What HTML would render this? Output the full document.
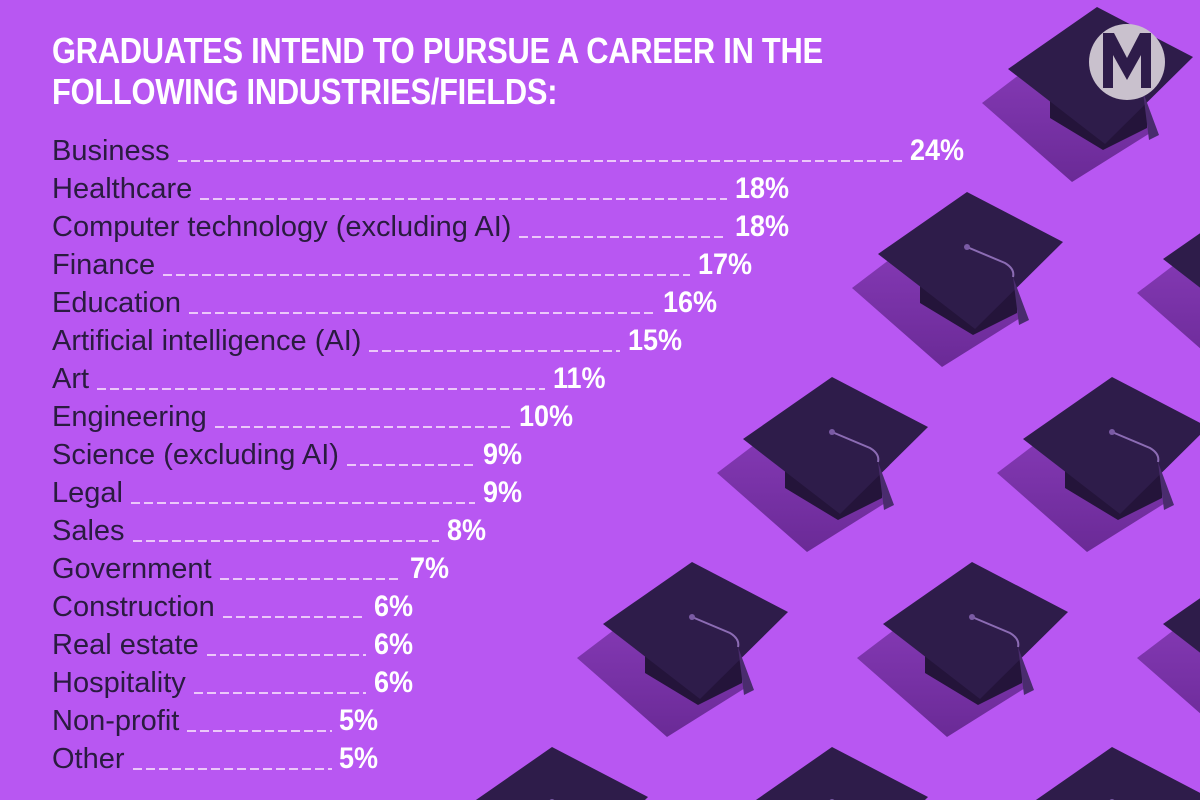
<!DOCTYPE html>
<html><head><meta charset="utf-8"><style>
html,body{margin:0;width:1200px;height:800px;overflow:hidden}
body{background:#b857f2;position:relative;font-family:"Liberation Sans",sans-serif;}
svg{position:absolute;left:0;top:0}
.t{position:absolute;left:52px;top:30px;color:#fff;font-weight:bold;font-size:36px;line-height:41px;letter-spacing:-0.3px;transform:scaleX(0.857);transform-origin:0 0;white-space:nowrap}
.r{position:absolute;left:52px;height:38px;display:flex;align-items:flex-end}
.l{color:#2a1b40;font-size:29px;line-height:30px;white-space:nowrap;padding-right:8px}
.d{flex:1;margin-bottom:4px;background-image:linear-gradient(to right,#ecc8fa 9px,transparent 9px);background-size:13px 2px;background-repeat:repeat-x;height:2px}
.p{position:absolute;color:#fff;font-size:30px;font-weight:bold;line-height:30px;transform:scaleX(0.9);transform-origin:0 0}
</style></head><body>
<svg width="1200" height="800" viewBox="0 0 1200 800">
<defs>
<linearGradient id="sh" x1="0" y1="0" x2="0" y2="1"><stop offset="0" stop-color="#8a3cbb"/><stop offset="1" stop-color="#6a2a96"/></linearGradient>
<g id="cap">
<polygon points="-30,-30 60,60 -23,112 -113,33" fill="url(#sh)"/>
<polygon points="-45,20 -45,48 8,80 52,58 52,30" fill="#24143a"/>
<polygon points="2,-63 98,-13 10,74 -87,-1" fill="#2e1c4a"/>
<path d="M2,-8 L40,8 Q50,14 48,22" stroke="#8c6cb4" stroke-width="2" fill="none"/>
<path d="M48,22 L54,70 L64,65 Z" fill="#4a2c6e"/>
<circle cx="2" cy="-8" r="3" fill="#7a5aa4"/>
</g>
</defs>
<use href="#cap" x="1095" y="70"/>
<use href="#cap" x="965" y="255"/>
<use href="#cap" x="1250" y="260"/>
<use href="#cap" x="830" y="440"/>
<use href="#cap" x="1110" y="440"/>
<use href="#cap" x="690" y="625"/>
<use href="#cap" x="970" y="625"/>
<use href="#cap" x="1250" y="625"/>
<use href="#cap" x="550" y="810"/>
<use href="#cap" x="830" y="810"/>
<use href="#cap" x="1110" y="810"/>
<circle cx="1127" cy="62" r="38" fill="#c9c1cd"/>
<polygon points="1103,33 1114,33 1127,58 1140,33 1151,33 1151,88 1141,88 1141,55 1127,80 1113,55 1113,88 1103,88" fill="#2e1c4a"/>
</svg>
<div class="t">GRADUATES INTEND TO PURSUE A CAREER IN THE<br>FOLLOWING INDUSTRIES/FIELDS:</div>

<div class="r" style="top:128px;width:850px"><span class="l">Business</span><span class="d"></span></div><span class="p" style="left:910px;top:136px">24%</span>
<div class="r" style="top:166px;width:675px"><span class="l">Healthcare</span><span class="d"></span></div><span class="p" style="left:735px;top:174px">18%</span>
<div class="r" style="top:204px;width:675px"><span class="l">Computer technology (excluding AI)</span><span class="d"></span></div><span class="p" style="left:735px;top:212px">18%</span>
<div class="r" style="top:242px;width:638px"><span class="l">Finance</span><span class="d"></span></div><span class="p" style="left:698px;top:250px">17%</span>
<div class="r" style="top:280px;width:603px"><span class="l">Education</span><span class="d"></span></div><span class="p" style="left:663px;top:288px">16%</span>
<div class="r" style="top:318px;width:568px"><span class="l">Artificial intelligence (AI)</span><span class="d"></span></div><span class="p" style="left:628px;top:326px">15%</span>
<div class="r" style="top:356px;width:493px"><span class="l">Art</span><span class="d"></span></div><span class="p" style="left:553px;top:364px">11%</span>
<div class="r" style="top:394px;width:459px"><span class="l">Engineering</span><span class="d"></span></div><span class="p" style="left:519px;top:402px">10%</span>
<div class="r" style="top:432px;width:423px"><span class="l">Science (excluding AI)</span><span class="d"></span></div><span class="p" style="left:483px;top:440px">9%</span>
<div class="r" style="top:470px;width:423px"><span class="l">Legal</span><span class="d"></span></div><span class="p" style="left:483px;top:478px">9%</span>
<div class="r" style="top:508px;width:387px"><span class="l">Sales</span><span class="d"></span></div><span class="p" style="left:447px;top:516px">8%</span>
<div class="r" style="top:546px;width:350px"><span class="l">Government</span><span class="d"></span></div><span class="p" style="left:410px;top:554px">7%</span>
<div class="r" style="top:584px;width:314px"><span class="l">Construction</span><span class="d"></span></div><span class="p" style="left:374px;top:592px">6%</span>
<div class="r" style="top:622px;width:314px"><span class="l">Real estate</span><span class="d"></span></div><span class="p" style="left:374px;top:630px">6%</span>
<div class="r" style="top:660px;width:314px"><span class="l">Hospitality</span><span class="d"></span></div><span class="p" style="left:374px;top:668px">6%</span>
<div class="r" style="top:698px;width:280px"><span class="l">Non-profit</span><span class="d"></span></div><span class="p" style="left:339px;top:706px">5%</span>
<div class="r" style="top:736px;width:280px"><span class="l">Other</span><span class="d"></span></div><span class="p" style="left:339px;top:744px">5%</span>
</body></html>
